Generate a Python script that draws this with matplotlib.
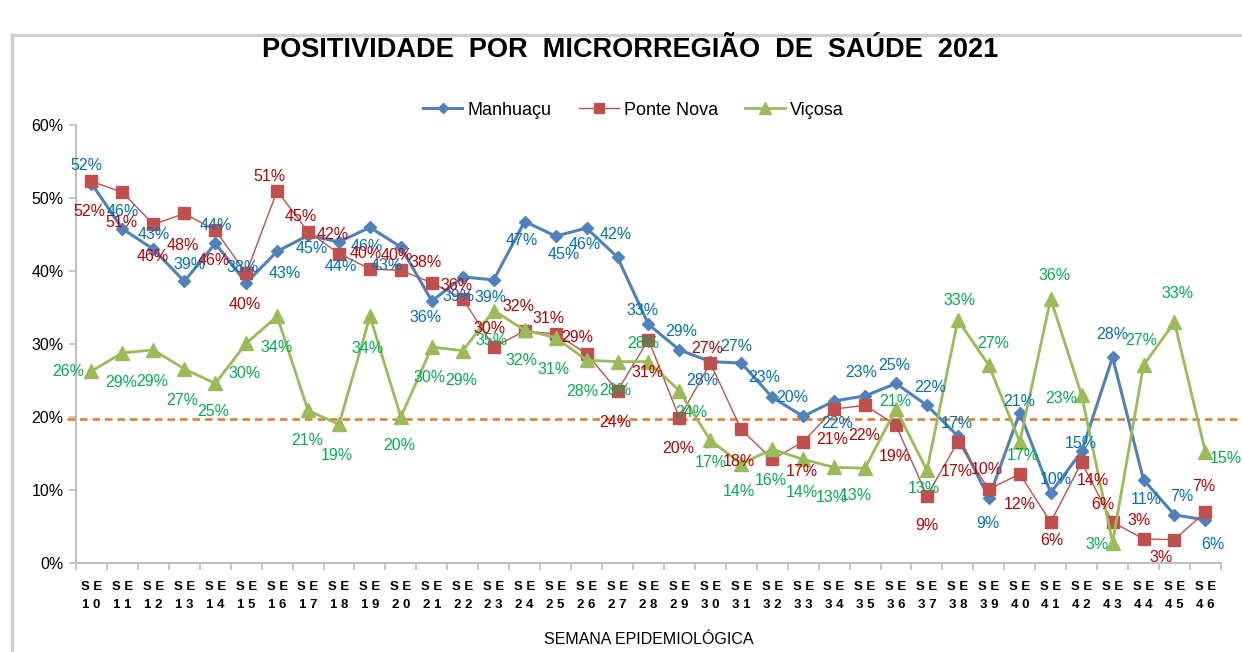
import matplotlib
matplotlib.use("Agg")
import matplotlib.pyplot as plt
from matplotlib import font_manager
from matplotlib.lines import Line2D

# data (positividade %)
weeks = list(range(10, 47))
manhuacu = [52.0, 45.8, 43.0, 38.6, 43.8, 38.4, 42.7, 44.9, 44.0, 46.0,
            43.3, 35.9, 39.2, 38.8, 46.8, 44.8, 45.9, 41.9, 32.7, 29.2,
            27.6, 27.4, 22.7, 20.1, 22.2, 22.9, 24.6, 21.6, 17.4, 8.9,
            20.6, 9.6, 15.3, 28.2, 11.4, 6.6, 5.9]
ponte_nova = [52.3, 50.8, 46.4, 47.9, 45.6, 39.7, 51.0, 45.4, 42.4, 40.3,
              40.1, 38.4, 36.2, 29.6, 31.8, 31.4, 28.7, 23.6, 30.6, 19.9,
              27.4, 18.3, 14.2, 16.6, 21.1, 21.6, 18.9, 9.2, 16.6, 10.1,
              12.2, 5.6, 13.8, 5.6, 3.3, 3.2, 7.0]
vicosa = [26.3, 28.8, 29.2, 26.6, 24.6, 30.1, 33.8, 20.9, 19.0, 33.8,
          20.0, 29.6, 29.1, 34.6, 31.9, 30.9, 27.8, 27.6, 27.6, 23.6,
          16.8, 13.6, 15.6, 14.2, 13.1, 13.0, 21.1, 12.7, 33.3, 27.1,
          16.6, 36.2, 23.0, 2.8, 27.1, 33.0, 15.2]
threshold = 19.7

# label offsets in pixels (dx right, dy down); None = label hidden
off_manhuacu = [(-5, -18), (0, -17), (0, -15), (5, -17), (1, -18), (-4, -15), (8, 22),
                (4, 13), (2, 25), (-3, 19), (-14, 18), (-6, 16), (-4, 20), (-3, 18),
                (-3, 19), (8, 18), (-2, 16), (-2, -23), (-6, -14), (2, -18), (-8, 19),
                (-5, -17), (-8, -20), (-11, -19), (3, 22), (-4, -23), (-2, -18), (3, -18),
                (-1, -13), (-1, 25), (-1, -11), (5, -13), (-1, -8), (0, -23), (3, 20),
                (7, -18), (7, 25)]
off_ponte = [(-2, 30), (-1, 30), (-1, 32), (-1, 32), (-2, 30), (-1, 31), (-8, -14),
             (-7, -15), (-6, -19), (-4, -15), (-4, -15), (-6, -20), (-6, -13), (-4, -19),
             (-6, -24), (-7, -15), (-9, -16), (-2, 32), (-1, 33), (-1, 31), (-3, -15),
             (-2, 32), None, (-1, 30), (-2, 30), (-1, 30), (-1, 31), (0, 30),
             (-1, 30), (-2, -20), (0, 31), (1, 18), (11, 18), (-10, -18), (-4, -18),
             (-13, 18), (-2, -25)]
off_vicosa = [(-23, 0), (-1, 30), (-1, 32), (-2, 32), (-2, 28), (-2, 30), (-1, 31),
              (-1, 30), (-2, 31), (-2, 32), (-2, 28), (-2, 30), (-2, 30), (-2, 30),
              (-3, 30), (-2, 32), (-4, 31), (-2, 29), (-5, -18), (12, 22), (0, 22),
              (-2, 28), (-1, 31), (-1, 33), (-2, 30), (-9, 27), (-1, -8), (-3, 18),
              (2, -20), (4, -22), (3, 14), (4, -23), (-20, 3), (-16, 2), (-2, -25),
              (3, -29), (20, 6)]

names = {f.name for f in font_manager.fontManager.ttflist}
NARROW = 'Liberation Sans Narrow' if 'Liberation Sans Narrow' in names else 'Liberation Sans'
plt.rcParams['font.family'] = [NARROW, 'DejaVu Sans']

fig = plt.figure(figsize=(12.42, 6.52), dpi=100)
ax = fig.add_axes([0.0612, 0.1365, 0.9218, 0.6715])

x = list(range(len(weeks)))
series = [
    ('Manhuaçu', manhuacu, '#4F81BD', 'D', 6.5, 2.2, '#0070C0', off_manhuacu),
    ('Ponte Nova', ponte_nova, '#C0504D', 's', 9, 1.0, '#C00000', off_ponte),
    ('Viçosa', vicosa, '#9BBB59', '^', 10, 2.0, '#00B050', off_vicosa),
]

ax.plot([-0.78, 38], [threshold, threshold], ls=(0, (3, 2)), color='#E87722',
        lw=1.8, clip_on=False, zorder=1)

handles = []
for name, vals, col, mk, ms, lw, lcol, offs in series:
    ax.plot(x, vals, color=col, marker=mk, markersize=ms, lw=lw, zorder=3)
    handles.append(Line2D([], [], color=col, marker=mk, markersize=ms * 0.8, lw=lw, label=name))
    for xi, v, o in zip(x, vals, offs):
        if o is None:
            continue
        ax.annotate(f"{v:.0f}%", (xi, v), xytext=(o[0], -o[1]), textcoords='offset pixels',
                    ha='center', va='center', color=lcol, fontsize=11.5,
                    annotation_clip=False, zorder=4)

ax.set_xlim(-0.5, len(weeks) - 0.5)
ax.set_ylim(0, 60)
ax.set_yticks(range(0, 61, 10))
ax.set_yticklabels([f"{t}%" for t in range(0, 61, 10)], fontsize=11.5)
ax.set_xticks(x)
ax.set_xticklabels([f"S E\n{' '.join(str(w))}" for w in weeks], fontsize=9.5,
                   fontweight='bold', linespacing=1.7)
ax.set_xticks([i - 0.5 for i in range(len(weeks) + 1)], minor=True)
ax.tick_params(axis='x', which='major', length=0, pad=13)
ax.tick_params(axis='x', which='minor', length=5, color='#BFBFBF', width=1.2)
ax.tick_params(axis='y', length=5, color='#BFBFBF', width=1.2, pad=4)
for s in ('top', 'right'):
    ax.spines[s].set_visible(False)
for s in ('left', 'bottom'):
    ax.spines[s].set_color('#BFBFBF')
    ax.spines[s].set_linewidth(1.5)

ax.set_xlabel('SEMANA EPIDEMIOLÓGICA', fontsize=11.5, labelpad=15)

fig.text(0.507, 0.923, 'POSITIVIDADE  POR  MICRORREGIÃO  DE  SAÚDE  2021',
         ha='center', va='center', fontsize=19.5, fontweight='bold')
fig.legend(handles=handles, loc='center', bbox_to_anchor=(0.51, 0.831), ncol=3,
           frameon=False, fontsize=13, handlelength=2.2, columnspacing=1.5, handletextpad=0.3)

# outer chart frame
fig.add_artist(Line2D([12 / 1242, 12 / 1242], [0, 1 - 35 / 652], color='#D0D0D0', lw=2.5))
fig.add_artist(Line2D([12 / 1242, 1], [1 - 35 / 652, 1 - 35 / 652], color='#D0D0D0', lw=2.5))

fig.savefig('out.png', dpi=100)
